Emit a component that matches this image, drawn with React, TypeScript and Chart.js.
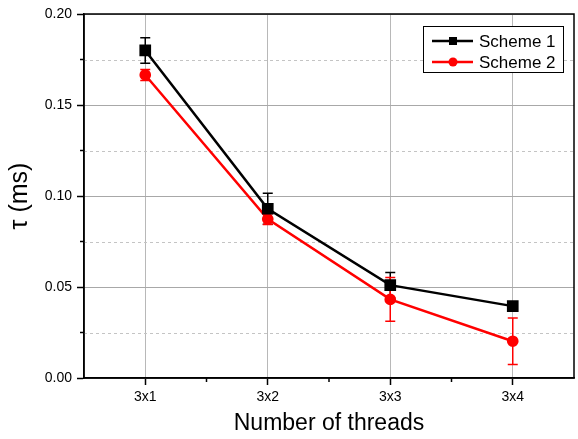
import { useEffect, useRef } from "react";
import { Chart, registerables } from "chart.js";
Chart.register(...registerables);

const categories = ["3x1", "3x2", "3x3", "3x4"];
const scheme1 = [0.18, 0.093, 0.051, 0.0395];
const scheme1Err = [0.007, 0.0085, 0.007, 0.001];
const scheme2 = [0.1665, 0.0873, 0.0432, 0.0202];
const scheme2Err = [0.003, 0.003, 0.012, 0.0128];
const yTicks = [0, 0.05, 0.1, 0.15, 0.2];
const yMinorTicks = [0.025, 0.075, 0.125, 0.175];
const seriesLabels = ["Scheme 1", "Scheme 2"];
const errors = [scheme1Err, scheme2Err];

const FONT = "'Liberation Sans', Arial, sans-serif";

const extras = {
  id: "extras",
  beforeDatasetsDraw(chart: any) {
    const { ctx, chartArea: a } = chart;
    const x = chart.scales.x;
    const y = chart.scales.y;
    ctx.save();
    ctx.strokeStyle = "#c4c4c4";
    ctx.lineWidth = 1;
    ctx.setLineDash([3, 3]);
    yMinorTicks.forEach((v) => {
      const py = Math.round(y.getPixelForValue(v)) + 0.5;
      ctx.beginPath();
      ctx.moveTo(a.left, py);
      ctx.lineTo(a.right, py);
      ctx.stroke();
    });
    ctx.setLineDash([]);
    chart.data.datasets.forEach((ds: any, di: number) => {
      const err = errors[di];
      ctx.strokeStyle = ds.borderColor;
      ctx.lineWidth = 1.5;
      ds.data.forEach((v: number, i: number) => {
        const px = x.getPixelForValue(i);
        const top = y.getPixelForValue(v + err[i]);
        const bot = y.getPixelForValue(v - err[i]);
        ctx.beginPath();
        ctx.moveTo(px, top);
        ctx.lineTo(px, bot);
        ctx.moveTo(px - 5, top);
        ctx.lineTo(px + 5, top);
        ctx.moveTo(px - 5, bot);
        ctx.lineTo(px + 5, bot);
        ctx.stroke();
      });
    });
    ctx.restore();
  },
  afterDraw(chart: any) {
    const { ctx, chartArea: a } = chart;
    const x = chart.scales.x;
    const y = chart.scales.y;
    ctx.save();
    ctx.strokeStyle = "#000";
    ctx.lineWidth = 1.5;
    ctx.strokeRect(a.left, a.top, a.right - a.left, a.bottom - a.top);
    yMinorTicks.forEach((v) => {
      const py = y.getPixelForValue(v);
      ctx.beginPath();
      ctx.moveTo(a.left - 4, py);
      ctx.lineTo(a.left, py);
      ctx.stroke();
    });
    for (let i = 0; i < categories.length - 1; i++) {
      const px = (x.getPixelForValue(i) + x.getPixelForValue(i + 1)) / 2;
      ctx.beginPath();
      ctx.moveTo(px, a.bottom);
      ctx.lineTo(px, a.bottom + 4);
      ctx.stroke();
    }
    const lx = 423, ly = 26, lw = 140, lh = 46;
    ctx.fillStyle = "#fff";
    ctx.fillRect(lx, ly, lw, lh);
    ctx.strokeStyle = "#000";
    ctx.lineWidth = 1;
    ctx.strokeRect(lx + 0.5, ly + 0.5, lw, lh);
    const rows = [41, 62];
    chart.data.datasets.forEach((ds: any, di: number) => {
      const ry = rows[di];
      ctx.strokeStyle = ds.borderColor;
      ctx.fillStyle = ds.borderColor;
      ctx.lineWidth = 2.5;
      ctx.beginPath();
      ctx.moveTo(432, ry);
      ctx.lineTo(473, ry);
      ctx.stroke();
      if (ds.pointStyle === "rect") {
        ctx.fillRect(453 - 4, ry - 4, 8, 8);
      } else {
        ctx.beginPath();
        ctx.arc(453, ry, 4.5, 0, Math.PI * 2);
        ctx.fill();
      }
      ctx.fillStyle = "#000";
      ctx.font = `17px ${FONT}`;
      ctx.textBaseline = "middle";
      ctx.textAlign = "left";
      ctx.fillText(seriesLabels[di], 479, ry + 1);
    });
    ctx.restore();
  },
};

export default function App() {
  const ref = useRef<HTMLCanvasElement>(null);
  useEffect(() => {
    document.body.style.margin = "0";
    const chart = new Chart(ref.current!, {
      type: "line",
      data: {
        labels: categories,
        datasets: [
          {
            label: seriesLabels[0],
            data: scheme1,
            borderColor: "#000000",
            backgroundColor: "#000000",
            pointBackgroundColor: "#000000",
            pointBorderColor: "#000000",
            pointStyle: "rect",
            pointRadius: 6.5,
            borderWidth: 2.5,
            tension: 0,
          },
          {
            label: seriesLabels[1],
            data: scheme2,
            borderColor: "#ff0000",
            backgroundColor: "#ff0000",
            pointBackgroundColor: "#ff0000",
            pointBorderColor: "#ff0000",
            pointStyle: "circle",
            pointRadius: 4.6,
            borderWidth: 2.5,
            tension: 0,
          },
        ],
      },
      options: {
        animation: false,
        responsive: true,
        maintainAspectRatio: false,
        layout: { autoPadding: false, padding: { top: 14, right: 4, left: 0, bottom: 0 } },
        plugins: { legend: { display: false }, tooltip: { enabled: false } },
        scales: {
          x: {
            type: "category",
            offset: true,
            grid: { offset: false, color: "#b8b8b8", lineWidth: 1, tickLength: 7, tickColor: "#000", tickWidth: 1.5 },
            border: { color: "#000", width: 1.5 },
            ticks: { font: { family: FONT, size: 14 }, color: "#000", padding: 4, maxRotation: 0 },
            title: {
              display: true,
              text: "Number of threads",
              font: { family: FONT, size: 23 },
              color: "#000",
              padding: { top: 0, bottom: 2 },
            },
            afterFit: (s: any) => {
              s.height = 61;
              s.paddingLeft = 0;
              s.paddingRight = 0;
            },
          },
          y: {
            min: 0,
            max: 0.2,
            afterBuildTicks: (s: any) => {
              s.ticks = yTicks.map((v) => ({ value: v }));
            },
            grid: { color: "#a8a8a8", lineWidth: 1, tickLength: 7, tickColor: "#000", tickWidth: 1.5 },
            border: { color: "#000", width: 1.5 },
            ticks: {
              font: { family: FONT, size: 14 },
              color: "#000",
              padding: 5,
              callback: (v: any) => Number(v).toFixed(2),
            },
            title: {
              display: true,
              text: "τ (ms)",
              font: { family: FONT, size: 25 },
              color: "#000",
              padding: { top: 5, bottom: 0 },
            },
            afterFit: (s: any) => {
              s.width = 84;
            },
          },
        },
      },
      plugins: [extras],
    });
    return () => chart.destroy();
  }, []);
  return (
    <div style={{ position: "relative", width: 578, height: 439 }}>
      <canvas ref={ref} />
    </div>
  );
}
